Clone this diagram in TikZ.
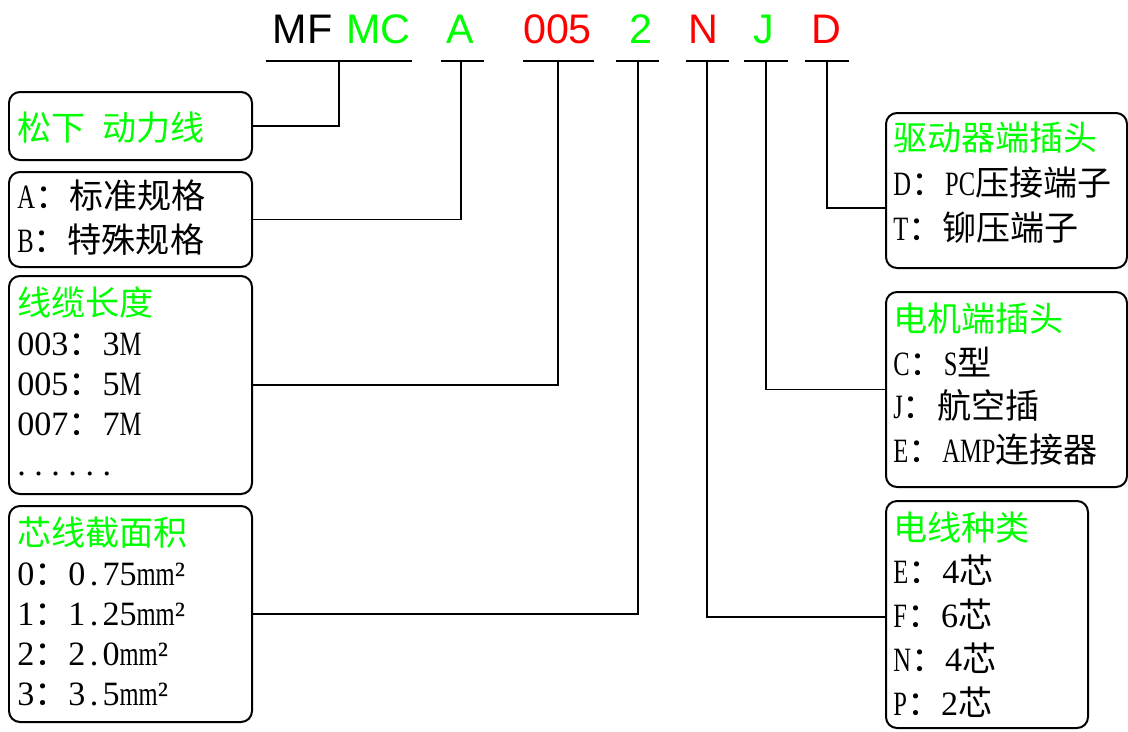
\documentclass[tikz,border=0pt]{standalone}
\usepackage{fontspec}
\setmainfont{Liberation Serif}
\newfontfamily\cjk{Noto Sans CJK SC}
\newfontfamily\nrw[FakeStretch=0.72]{Liberation Serif}
\newfontfamily\hdr{Liberation Sans}
\usetikzlibrary{fit}
\definecolor{codegreen}{RGB}{0,255,0}
\definecolor{codered}{RGB}{255,0,0}
\newcommand\zh[1]{{\cjk #1}}
\newcommand\en[1]{{\nrw #1}}
\newcommand\hwdot{\makebox[0.5em][c]{.}}
\newcommand\rowdot{\makebox[0.5em][l]{.}}

\tikzset{
  code/.style={anchor=base, inner sep=0, font=\hdr\fontsize{23.5pt}{28pt}\selectfont},
  item/.style={anchor=base west, inner sep=0, font=\fontsize{19.4pt}{23pt}\selectfont},
  head/.style={item, text=codegreen},
  frame/.style={draw, line width=0.04cm, rounded corners=0.22cm, inner sep=0},
  wire/.style={line width=0.035cm},
}

\begin{document}
\begin{tikzpicture}[x=0.02cm, y=-0.02cm]
  \useasboundingbox (0,0) rectangle (1128,731);

  % Model code letters
  \node[code] (mf) at (302.5,43) {MF};
  \node[code, text=codegreen] (mc) at (378.5,43) {MC};
  \node[code, text=codegreen] (ca) at (460,43) {A};
  \node[code, text=codered] (clen) at (557.5,43) {005};
  \node[code, text=codegreen] (csec) at (640.5,43) {2};
  \node[code, text=codered] (cn) at (703.5,43) {N};
  \node[code, text=codegreen] (cj) at (763.5,43) {J};
  \node[code, text=codered] (cd) at (826,43) {D};

  % Stem tops under the letters
  \coordinate (t1) at (339,61);
  \coordinate (tA) at (461,61);
  \coordinate (tL) at (558,61);
  \coordinate (tS) at (638,61);
  \coordinate (tN) at (707,61);
  \coordinate (tJ) at (766,61);
  \coordinate (tD) at (827,61);

  % Underlines
  \draw[wire] (t1) ++(-73,0) -- ++(146,0);
  \draw[wire] (tA) ++(-20,0) -- ++(43,0);
  \draw[wire] (tL) ++(-35,0) -- ++(71,0);
  \draw[wire] (tS) ++(-22,0) -- ++(43,0);
  \draw[wire] (tN) ++(-21,0) -- ++(43,0);
  \draw[wire] (tJ) ++(-22,0) -- ++(44,0);
  \draw[wire] (tD) ++(-22,0) -- ++(44,0);

  % Box 1: series
  \node[frame, fit={(9,92) (252,160)}] (b1) {};
  \node[head] (b1l1) at (17,140) {\zh{松下\hspace{0.5em}动力线}};

  % Box 2: version
  \node[frame, fit={(9,172) (252,267)}] (b2) {};
  \node[item] (b2l1) at (17,208) {\en{A}\zh{：标准规格}};
  \node[item] (b2l2) at (17,252) {\en{B}\zh{：特殊规格}};

  % Box 3: cable length
  \node[frame, fit={(9,276) (252,494)}] (b3) {};
  \node[head] (b3l1) at (17,315) {\zh{线缆长度}};
  \node[item] (b3l2) at (17,355) {003\zh{：}3\en{M}};
  \node[item] (b3l3) at (17,395) {005\zh{：}5\en{M}};
  \node[item] (b3l4) at (17,435) {007\zh{：}7\en{M}};
  \node[item] (b3l5) at (17,475) {\rowdot\rowdot\rowdot\rowdot\rowdot\rowdot};

  % Box 4: cross section
  \node[frame, fit={(9,506) (252,722)}] (b4) {};
  \node[head] (b4l1) at (17,545) {\zh{芯线截面积}};
  \node[item] (b4l2) at (17,585) {0\zh{：}0\hwdot 75\en{mm}²};
  \node[item] (b4l3) at (17,625) {1\zh{：}1\hwdot 25\en{mm}²};
  \node[item] (b4l4) at (17,665) {2\zh{：}2\hwdot 0\en{mm}²};
  \node[item] (b4l5) at (17,705) {3\zh{：}3\hwdot 5\en{mm}²};

  % Box 5: driver side plug
  \node[frame, fit={(886,113) (1127,268)}] (b5) {};
  \node[head] (b5l1) at (893,150) {\zh{驱动器端插头}};
  \node[item] (b5l2) at (893,195) {\en{D}\zh{：}\en{PC}\zh{压接端子}};
  \node[item] (b5l3) at (893,240) {\en{T}\zh{：铆压端子}};

  % Box 6: motor side plug
  \node[frame, fit={(886,292) (1127,487)}] (b6) {};
  \node[head] (b6l1) at (893,331) {\zh{电机端插头}};
  \node[item] (b6l2) at (893,375) {\en{C}\zh{：}\en{S}\zh{型}};
  \node[item] (b6l3) at (893,418) {\en{J}\zh{：航空插}};
  \node[item] (b6l4) at (893,462) {\en{E}\zh{：}\en{AMP}\zh{连接器}};

  % Box 7: wire type
  \node[frame, fit={(886,501) (1088,728)}] (b7) {};
  \node[head] (b7l1) at (893,540) {\zh{电线种类}};
  \node[item] (b7l2) at (893,583) {\en{E}\zh{：}4\zh{芯}};
  \node[item] (b7l3) at (893,627) {\en{F}\zh{：}6\zh{芯}};
  \node[item] (b7l4) at (893,671) {\en{N}\zh{：}4\zh{芯}};
  \node[item] (b7l5) at (893,715) {\en{P}\zh{：}2\zh{芯}};

  % Connectors
  \draw[wire] (t1) |- (b1.east);
  \draw[wire] (tA) |- (b2.east);
  \draw[wire] (tL) |- (b3.east);
  \draw[wire] (tS) |- (b4.east);
  \draw[wire] (tN) |- ([yshift=-0.05cm]b7.west);
  \draw[wire] (tJ) |- (b6.west);
  \draw[wire] (tD) |- ([yshift=-0.35cm]b5.west);
\end{tikzpicture}
\end{document}
